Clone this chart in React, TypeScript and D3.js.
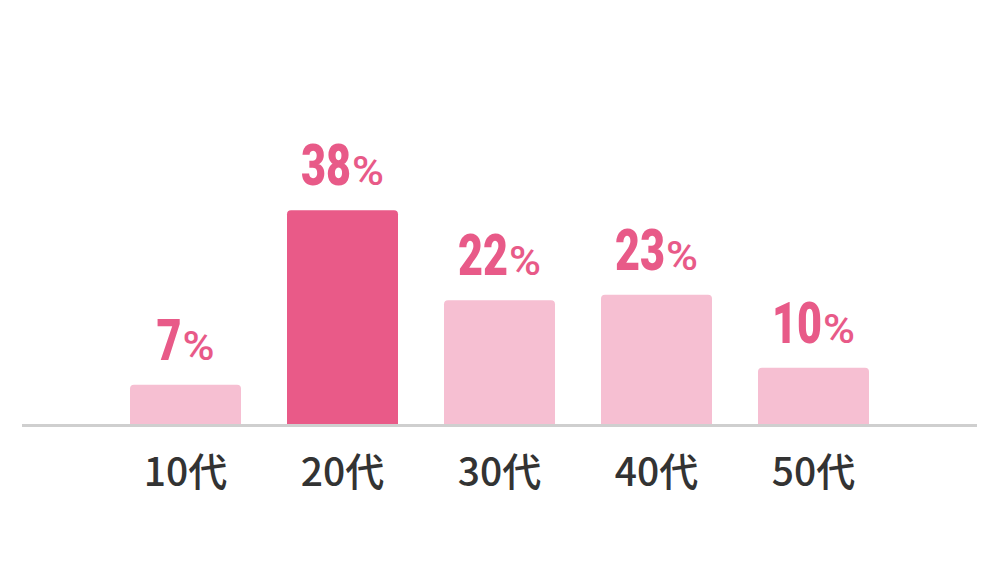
import React from "react";
import * as d3 from "d3";

const categories = ["10代", "20代", "30代", "40代", "50代"];
const values = [7, 38, 22, 23, 10];
const highlightIndex = 1;

const W = 1000;
const H = 562;
const baseline = 424;

function topRoundedRect(x: number, y: number, w: number, h: number, r: number) {
  const p = d3.path();
  p.moveTo(x, y + h);
  p.lineTo(x, y + r);
  p.arcTo(x, y, x + r, y, r);
  p.lineTo(x + w - r, y);
  p.arcTo(x + w, y, x + w, y + r, r);
  p.lineTo(x + w, y + h);
  p.closePath();
  return p.toString();
}

export default function App() {
  const x = d3.scaleBand<string>().domain(categories).range([107, 892]).paddingInner(0.293).paddingOuter(0.1465);
  const y = d3.scaleLinear().domain([0, 40]).range([baseline, 199]);
  const bw = x.bandwidth();
  const digitW = 25;
  const pctW = 32;
  const gap = 1;
  return (
    <svg width={W} height={H} style={{ position: "absolute", left: 0, top: 0, background: "#fff" }}>
      {categories.map((c, i) => {
        const x0 = x(c)!;
        const yt = y(values[i]);
        const s = String(values[i]);
        const numW = s.length * digitW;
        const total = numW + gap + pctW;
        const cx = x0 + bw / 2;
        const startX = cx - total / 2;
        return (
          <g key={c}>
            <path d={topRoundedRect(x0, yt, bw, baseline - yt, 4)} fill={i === highlightIndex ? "#e95a88" : "#f6bfd2"} />
            <text y={yt - 25} textAnchor="start" fill="#e85a88" fontFamily="Roboto, 'Noto Sans', sans-serif">
              <tspan x={startX} fontWeight={900} fontSize={58} textLength={numW} lengthAdjust="spacingAndGlyphs">
                {s}
              </tspan>
              <tspan x={startX + numW + gap} fontWeight={500} fontSize={40} textLength={pctW} lengthAdjust="spacingAndGlyphs">
                %
              </tspan>
            </text>
            <text
              x={cx}
              y={486}
              textAnchor="middle"
              fill="#333"
              fontFamily="'Noto Sans CJK JP', sans-serif"
              fontWeight={500}
              fontSize={39}
            >
              {c}
            </text>
          </g>
        );
      })}
      <line x1={22} x2={977} y1={425.5} y2={425.5} stroke="#cfcfcf" strokeWidth={3} />
    </svg>
  );
}
